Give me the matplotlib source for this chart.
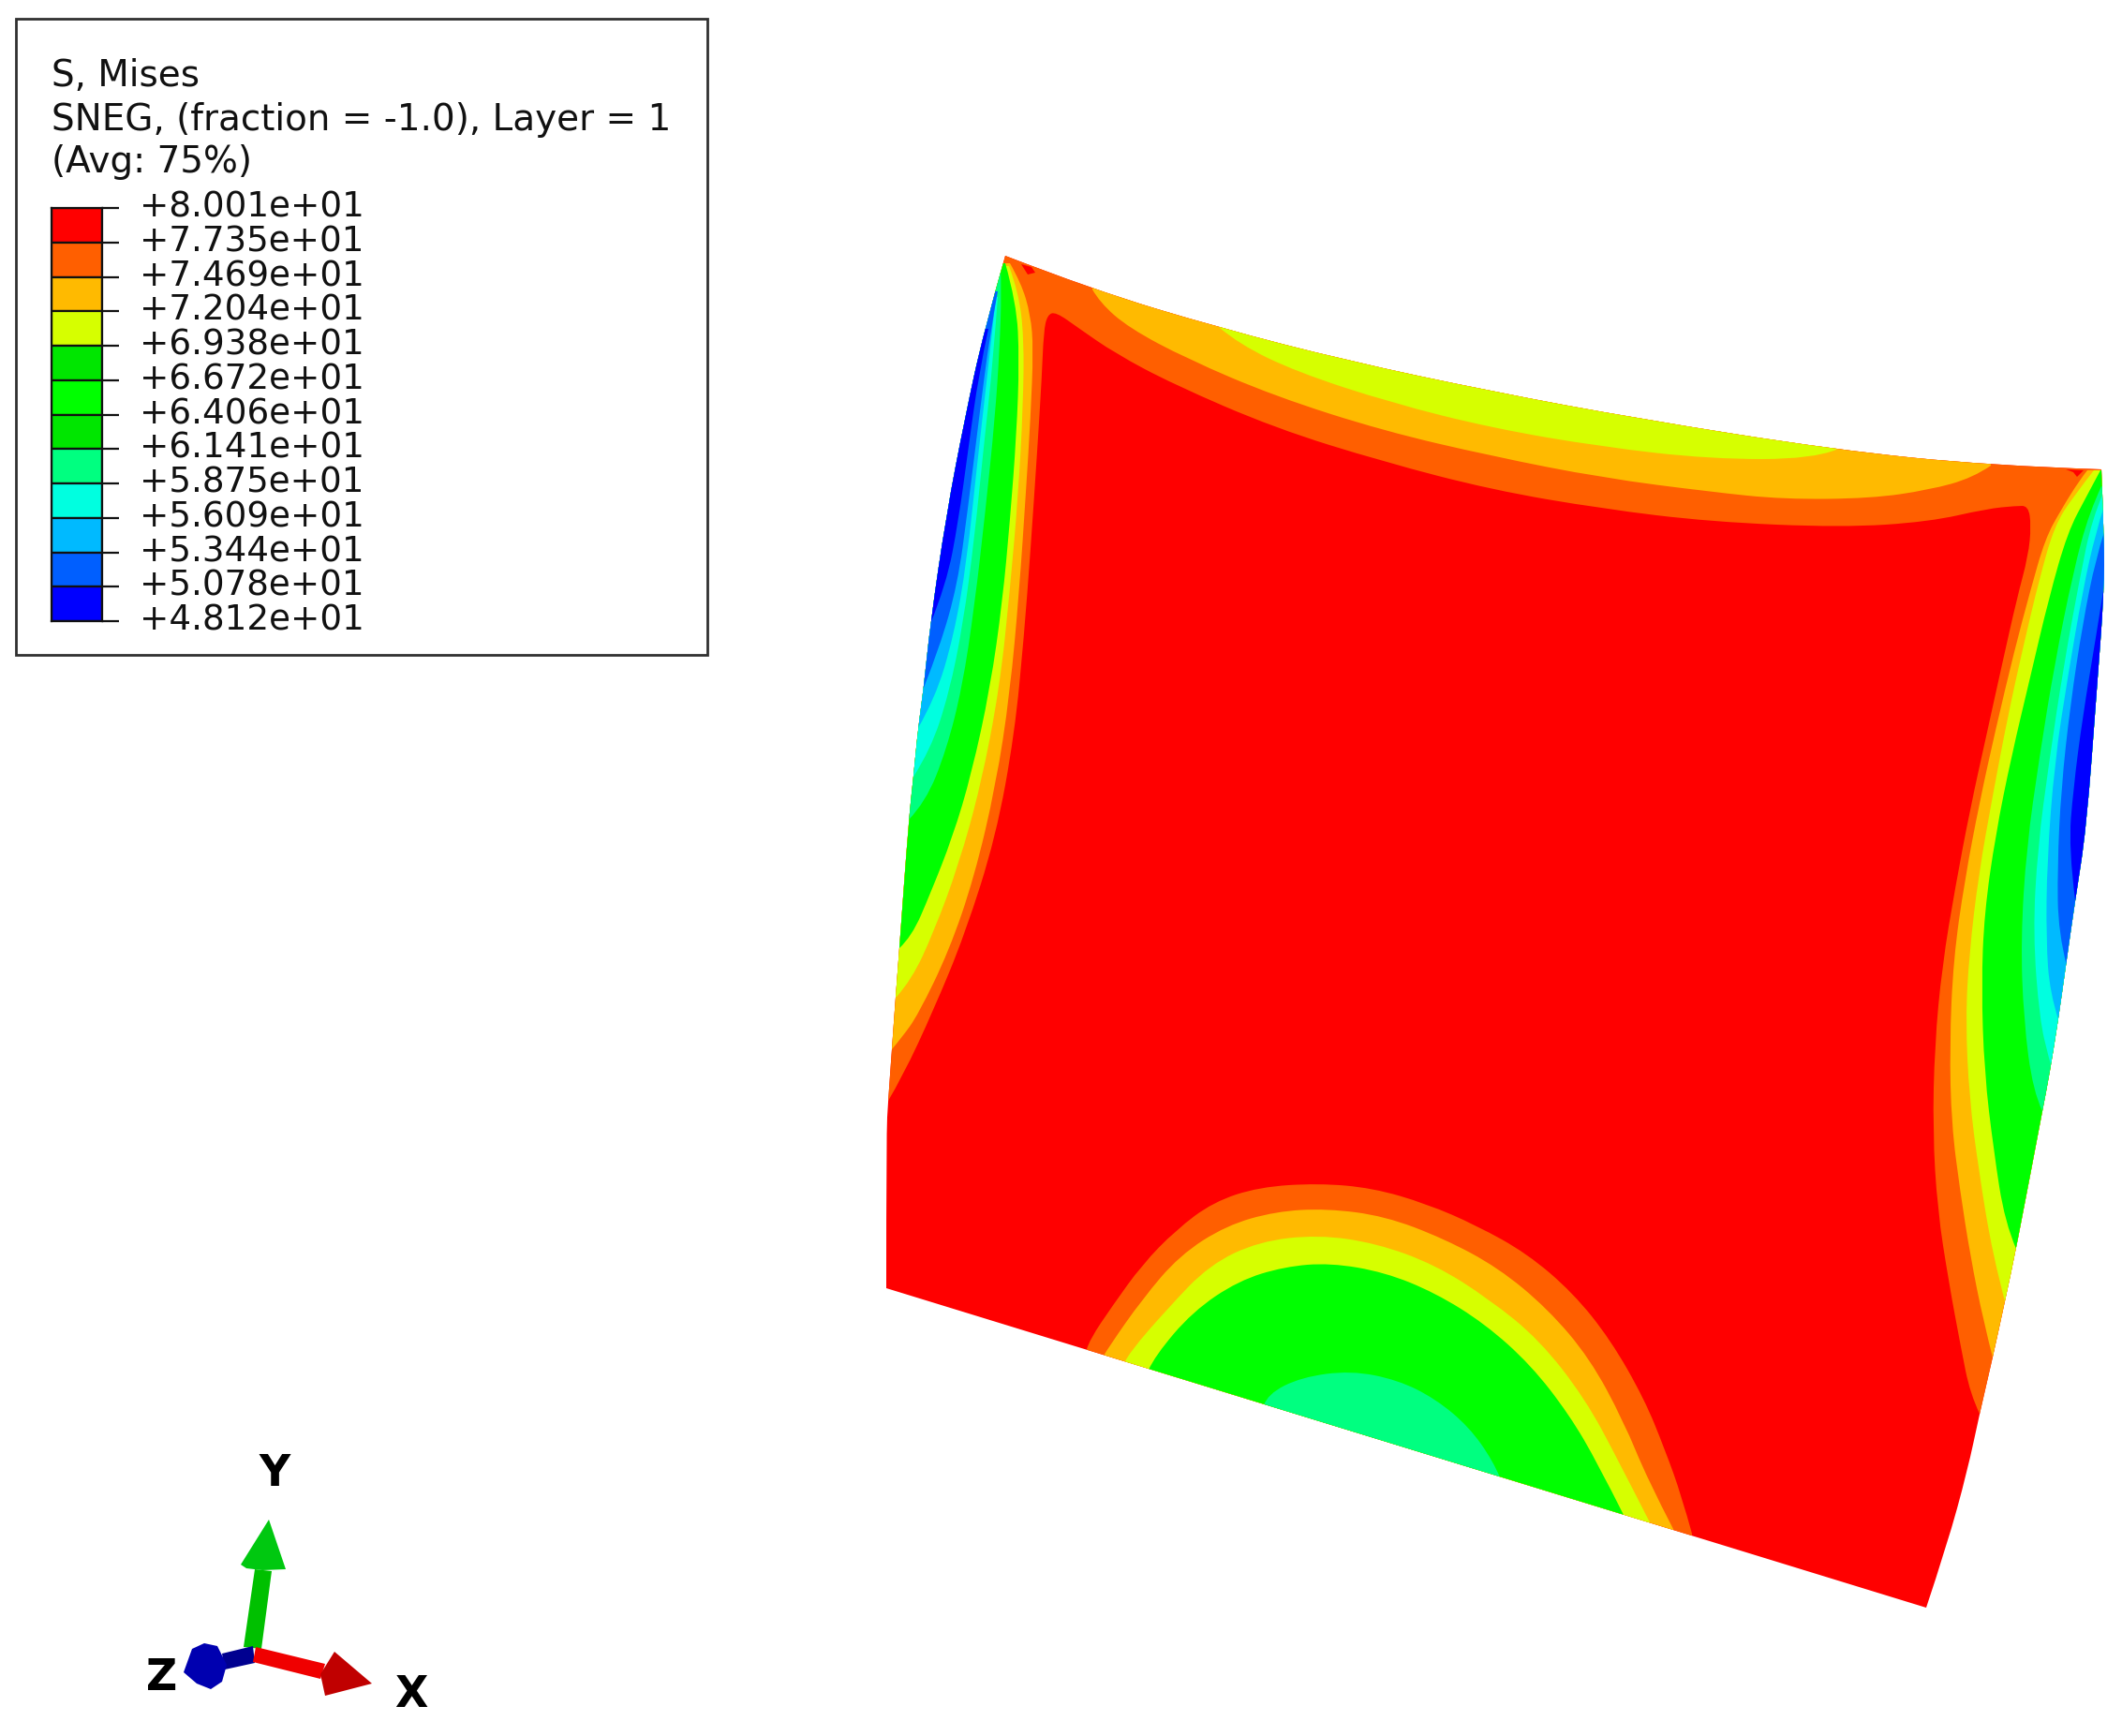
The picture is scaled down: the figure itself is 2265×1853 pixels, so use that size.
import matplotlib
matplotlib.use('Agg')
import matplotlib.pyplot as plt
from matplotlib.patches import PathPatch, Polygon, Rectangle
from matplotlib.path import Path
from matplotlib.transforms import ScaledTranslation

# legend
title_lines = ['S, Mises', 'SNEG, (fraction = -1.0), Layer = 1', '(Avg: 75%)']
level_labels = ['+8.001e+01', '+7.735e+01', '+7.469e+01', '+7.204e+01', '+6.938e+01',
                '+6.672e+01', '+6.406e+01', '+6.141e+01', '+5.875e+01', '+5.609e+01',
                '+5.344e+01', '+5.078e+01', '+4.812e+01']
band_colors = ['#FF0000', '#FF5F00', '#FFBA00', '#D6FF00', '#00E600', '#00FF00',
               '#00E600', '#00FF80', '#00FFE0', '#00BAFF', '#005FFF', '#0000FF']
RED, ORANGE, AMBER, YELLOW, GREEN = '#FF0000', '#FF5F00', '#FFBA00', '#D6FF00', '#00FF00'
SPRING, CYAN, SKY, MIDBLUE, BLUE = '#00FF80', '#00FFE0', '#00BAFF', '#005FFF', '#0000FF'

# plate outline
top_edge = [(1073, 273), (1166, 309), (1302, 350), (1438, 385), (1593, 418), (1749, 447),
            (1958, 480), (2125, 497), (2243, 501)]
right_edge = [(2243, 501), (2246, 575), (2246, 631), (2238, 737), (2227, 884), (2215, 961),
              (2205, 1031), (2197, 1088), (2188, 1144), (2180, 1186), (2152, 1333),
              (2140, 1389), (2127, 1449), (2113, 1509), (2100, 1570), (2078, 1650), (2056, 1716)]
left_edge = [(946, 1375), (946, 1210), (948, 1175), (952, 1120), (956, 1064), (960, 1012),
             (970, 875), (975, 829), (980, 777), (986, 734), (993, 666), (1010, 550),
             (1030, 446), (1050, 354), (1073, 273)]

# contour lines between the bands
red_line = [(948, 1175), (963, 1150), (997, 1077), (1030, 997), (1063, 893), (1083, 783),
            (1093, 679), (1100, 587), (1107, 483), (1112, 403), (1114, 354), (1118, 336),
            (1127, 333), (1151, 350), (1190, 377), (1252, 410), (1361, 457), (1477, 493),
            (1593, 523), (1710, 543), (1826, 557), (1966, 563), (2059, 557), (2121, 543),
            (2152, 540), (2165, 540), (2168, 561), (2165, 593), (2153, 638), (2137, 709),
            (2120, 786), (2103, 863), (2087, 947), (2073, 1031), (2065, 1116), (2063, 1207),
            (2068, 1291), (2080, 1368), (2093, 1438), (2103, 1488), (2113, 1509)]

left_amber = [(952, 1120), (963, 1107), (980, 1083), (1013, 1015), (1040, 936), (1063, 838),
              (1078, 740), (1088, 630), (1095, 526), (1100, 446), (1103, 372), (1100, 336),
              (1090, 302), (1078, 281)]
left_yellow = [(957, 1064), (973, 1046), (997, 994), (1023, 924), (1047, 838), (1067, 734),
               (1078, 630), (1087, 526), (1092, 434), (1093, 360), (1087, 311), (1077, 284)]
left_green = [(960, 1012), (973, 1000), (993, 954), (1017, 893), (1037, 826), (1057, 734),
              (1070, 642), (1078, 556), (1085, 464), (1088, 385), (1085, 323), (1073, 281)]
left_spring = [(970, 875), (988, 856), (1010, 801), (1027, 734), (1040, 648), (1052, 544),
               (1062, 446), (1067, 372), (1069, 311), (1068, 287)]
left_cyan = [(975, 829), (993, 801), (1013, 740), (1028, 666), (1040, 575), (1050, 477),
             (1060, 385), (1065, 317)]
left_sky = [(980, 777), (998, 746), (1018, 679), (1032, 599), (1043, 495), (1055, 391),
            (1063, 317)]
left_midblue = [(986, 734), (1003, 691), (1022, 624), (1033, 544), (1045, 446), (1057, 354),
                (1065, 311)]
left_blue = [(993, 666), (1010, 624), (1023, 556), (1033, 483), (1045, 397), (1055, 351)]

top_amber = [(1166, 309), (1174, 323), (1205, 350), (1267, 383), (1361, 423), (1477, 460),
             (1593, 487), (1710, 510), (1826, 525), (1904, 533), (1997, 532), (2059, 523),
             (2106, 510), (2125, 497)]
top_yellow = [(1302, 350), (1322, 367), (1384, 397), (1485, 430), (1593, 457), (1710, 477),
              (1826, 490), (1935, 490), (1960, 480)]

right_amber = [(2228, 502), (2220, 512), (2200, 544), (2183, 575), (2167, 631), (2150, 695),
               (2130, 779), (2113, 856), (2097, 940), (2085, 1024), (2081, 1116), (2083, 1200),
               (2092, 1270), (2103, 1340), (2117, 1410), (2127, 1449)]
right_yellow = [(2235, 502), (2213, 530), (2193, 561), (2177, 617), (2160, 688), (2143, 765),
                (2127, 849), (2112, 933), (2102, 1017), (2098, 1088), (2102, 1172), (2112, 1249),
                (2127, 1340), (2140, 1389)]
right_green = [(2242, 502), (2227, 530), (2207, 568), (2187, 638), (2167, 723), (2147, 807),
               (2130, 891), (2118, 975), (2115, 1052), (2118, 1144), (2128, 1228), (2140, 1305),
               (2152, 1333)]
right_spring = [(2243, 519), (2230, 547), (2213, 610), (2193, 709), (2177, 807), (2163, 905),
                (2157, 1003), (2160, 1088), (2170, 1165), (2180, 1186)]
right_cyan = [(2245, 526), (2233, 554), (2220, 617), (2203, 709), (2187, 814), (2175, 905),
              (2170, 996), (2177, 1088), (2187, 1130), (2190, 1140)]
right_sky = [(2246, 540), (2237, 568), (2223, 631), (2207, 723), (2193, 814), (2185, 919),
             (2184, 1003), (2188, 1060), (2197, 1088)]
right_midblue = [(2246, 568), (2237, 596), (2223, 666), (2210, 751), (2200, 842), (2196, 926),
                 (2197, 996), (2206, 1031)]
right_blue = [(2245, 631), (2237, 681), (2223, 765), (2213, 842), (2208, 905), (2215, 961)]

bottom_orange = [(1160, 1440), (1163, 1430), (1188, 1393), (1219, 1350), (1255, 1313),
                 (1295, 1283), (1344, 1267), (1407, 1263), (1465, 1268), (1523, 1285),
                 (1576, 1308), (1630, 1338), (1679, 1380), (1719, 1430), (1755, 1493),
                 (1777, 1547), (1795, 1597), (1806, 1637)]
bottom_amber = [(1178, 1447), (1184, 1437), (1219, 1387), (1259, 1340), (1309, 1308),
                (1362, 1293), (1416, 1290), (1478, 1298), (1541, 1322), (1599, 1353),
                (1652, 1397), (1697, 1450), (1733, 1517), (1759, 1580), (1786, 1632)]
bottom_yellow = [(1201, 1453), (1206, 1443), (1246, 1397), (1291, 1350), (1344, 1325),
                 (1407, 1318), (1469, 1327), (1532, 1350), (1590, 1387), (1643, 1430),
                 (1692, 1493), (1728, 1560), (1762, 1627)]
bottom_green = [(1226, 1462), (1233, 1447), (1273, 1400), (1322, 1367), (1371, 1352),
                (1420, 1348), (1478, 1358), (1532, 1380), (1585, 1413), (1634, 1457),
                (1675, 1510), (1706, 1563), (1733, 1617)]
bottom_spring = [(1349, 1500), (1353, 1488), (1389, 1470), (1442, 1463), (1492, 1473),
                 (1532, 1493), (1568, 1523), (1594, 1560), (1601, 1577)]

red_spot_left = [(1090, 282), (1101, 285), (1105, 291), (1097, 293)]
red_spot_right = [(2205, 501), (2224, 502), (2217, 509), (2213, 504)]

# triad
y_shaft = [(260, 1758), (279, 1760), (290, 1677), (272, 1675)]
y_head = [(287, 1622), (257, 1670), (263, 1674), (280, 1676), (305, 1675)]
x_shaft = [(273, 1758), (347, 1776), (342, 1792), (270, 1774)]
x_head = [(397, 1797), (357, 1763), (342, 1787), (347, 1810)]
z_shaft = [(237, 1765), (270, 1757), (272, 1775), (240, 1782)]
z_head = [(205, 1760), (218, 1754), (232, 1757), (242, 1777), (237, 1795), (225, 1803),
          (210, 1797), (196, 1785)]


def smooth(points):
    # quadratic curve through the midpoints, first and last point are kept
    verts = [points[0]]
    codes = [Path.MOVETO]
    for i in range(1, len(points) - 1):
        if i == len(points) - 2:
            end = points[-1]
        else:
            end = ((points[i][0] + points[i + 1][0]) / 2, (points[i][1] + points[i + 1][1]) / 2)
        verts += [points[i], end]
        codes += [Path.CURVE3, Path.CURVE3]
    return verts, codes


def band_path(points, side):
    # the band closes outside the plate, the plate clip cuts it to shape
    first, last = points[0], points[-1]
    if side == 'left':
        extra = [(900, last[1]), (900, first[1])]
    elif side == 'right':
        extra = [(2300, last[1]), (2300, first[1])]
    elif side == 'top':
        extra = [(last[0], 200), (first[0], 200)]
    elif side == 'bottom':
        extra = [(last[0], 1800), (first[0], 1800)]
    else:
        extra = [(2300, last[1]), (2300, 200), (900, 200), (900, first[1])]
    verts, codes = smooth(points)
    verts = verts + extra + [first]
    codes = codes + [Path.LINETO] * len(extra) + [Path.CLOSEPOLY]
    return Path(verts, codes)


fig = plt.figure(figsize=(22.65, 18.53), dpi=100)
ax = fig.add_axes([0, 0, 1, 1])
ax.set_xlim(0, 2265)
ax.set_ylim(1853, 0)
ax.axis('off')

# plate
verts, codes = [], []
for i, edge in enumerate([top_edge, right_edge, left_edge]):
    v, c = smooth(edge)
    if i > 0:
        c[0] = Path.LINETO
    verts += v
    codes += c
plate = PathPatch(Path(verts + [top_edge[0]], codes + [Path.CLOSEPOLY]), facecolor=RED, edgecolor='none')
ax.add_patch(plate)

bands = [
    (red_line, ORANGE, 'around'),
    (left_amber, AMBER, 'left'), (left_yellow, YELLOW, 'left'), (left_green, GREEN, 'left'),
    (left_spring, SPRING, 'left'), (left_cyan, CYAN, 'left'), (left_sky, SKY, 'left'),
    (left_midblue, MIDBLUE, 'left'), (left_blue, BLUE, 'left'),
    (top_amber, AMBER, 'top'), (top_yellow, YELLOW, 'top'),
    (right_amber, AMBER, 'right'), (right_yellow, YELLOW, 'right'), (right_green, GREEN, 'right'),
    (right_spring, SPRING, 'right'), (right_cyan, CYAN, 'right'), (right_sky, SKY, 'right'),
    (right_midblue, MIDBLUE, 'right'), (right_blue, BLUE, 'right'),
    (bottom_orange, ORANGE, 'bottom'), (bottom_amber, AMBER, 'bottom'),
    (bottom_yellow, YELLOW, 'bottom'), (bottom_green, GREEN, 'bottom'),
    (bottom_spring, SPRING, 'bottom'),
]
for points, color, side in bands:
    patch = PathPatch(band_path(points, side), facecolor=color, edgecolor='none')
    ax.add_patch(patch)
    patch.set_clip_path(plate)

for spot in [red_spot_left, red_spot_right]:
    patch = Polygon(spot, closed=True, facecolor=RED, edgecolor='none')
    ax.add_patch(patch)
    patch.set_clip_path(plate)

# legend box
ax.add_patch(Rectangle((17, 20), 738, 679, facecolor='white', edgecolor='#303030', linewidth=2.0))
for line, y in zip(title_lines, [92, 139, 184]):
    ax.text(55, y, line, fontsize=28, color='#111111', family='DejaVu Sans', va='baseline', ha='left')

cax = fig.add_axes([55 / 2265, 1 - 663 / 1853, 54 / 2265, 441 / 1853])
rows = list(range(len(band_colors)))
cax.barh([r + 0.5 for r in rows], [1] * len(rows), height=1, color=band_colors,
         edgecolor='#111111', linewidth=1.6)
cax.set_xlim(0, 1)
cax.set_ylim(len(rows), 0)
cax.set_xticks([])
cax.set_yticks(range(len(level_labels)))
cax.set_yticklabels(level_labels, fontsize=26.8, color='#111111', family='DejaVu Sans')
cax.yaxis.tick_right()
cax.tick_params(axis='y', length=13, width=1.6, color='#111111', pad=16)
# the labels sit a little above their ticks
label_shift = ScaledTranslation(0, 0.05, fig.dpi_scale_trans)
for label in cax.get_yticklabels():
    label.set_transform(label.get_transform() + label_shift)
for spine in cax.spines.values():
    spine.set_linewidth(1.6)
    spine.set_color('#111111')

# triad
ax.add_patch(Polygon(y_shaft, closed=True, facecolor='#00C000', edgecolor='none'))
ax.add_patch(Polygon(y_head, closed=True, facecolor='#00C810', edgecolor='none'))
ax.add_patch(Polygon(z_shaft, closed=True, facecolor='#000090', edgecolor='none'))
ax.add_patch(Polygon(z_head, closed=True, facecolor='#0000B0', edgecolor='none'))
ax.add_patch(Polygon(x_shaft, closed=True, facecolor='#F00000', edgecolor='none'))
ax.add_patch(Polygon(x_head, closed=True, facecolor='#C00000', edgecolor='none'))
ax.text(293, 1573, 'Y', fontsize=33, fontweight='bold', color='black', ha='center', va='center')
ax.text(173, 1791, 'Z', fontsize=33, fontweight='bold', color='black', ha='center', va='center')
ax.text(439, 1809, 'X', fontsize=33, fontweight='bold', color='black', ha='center', va='center')

fig.savefig('out.png', dpi=100)
